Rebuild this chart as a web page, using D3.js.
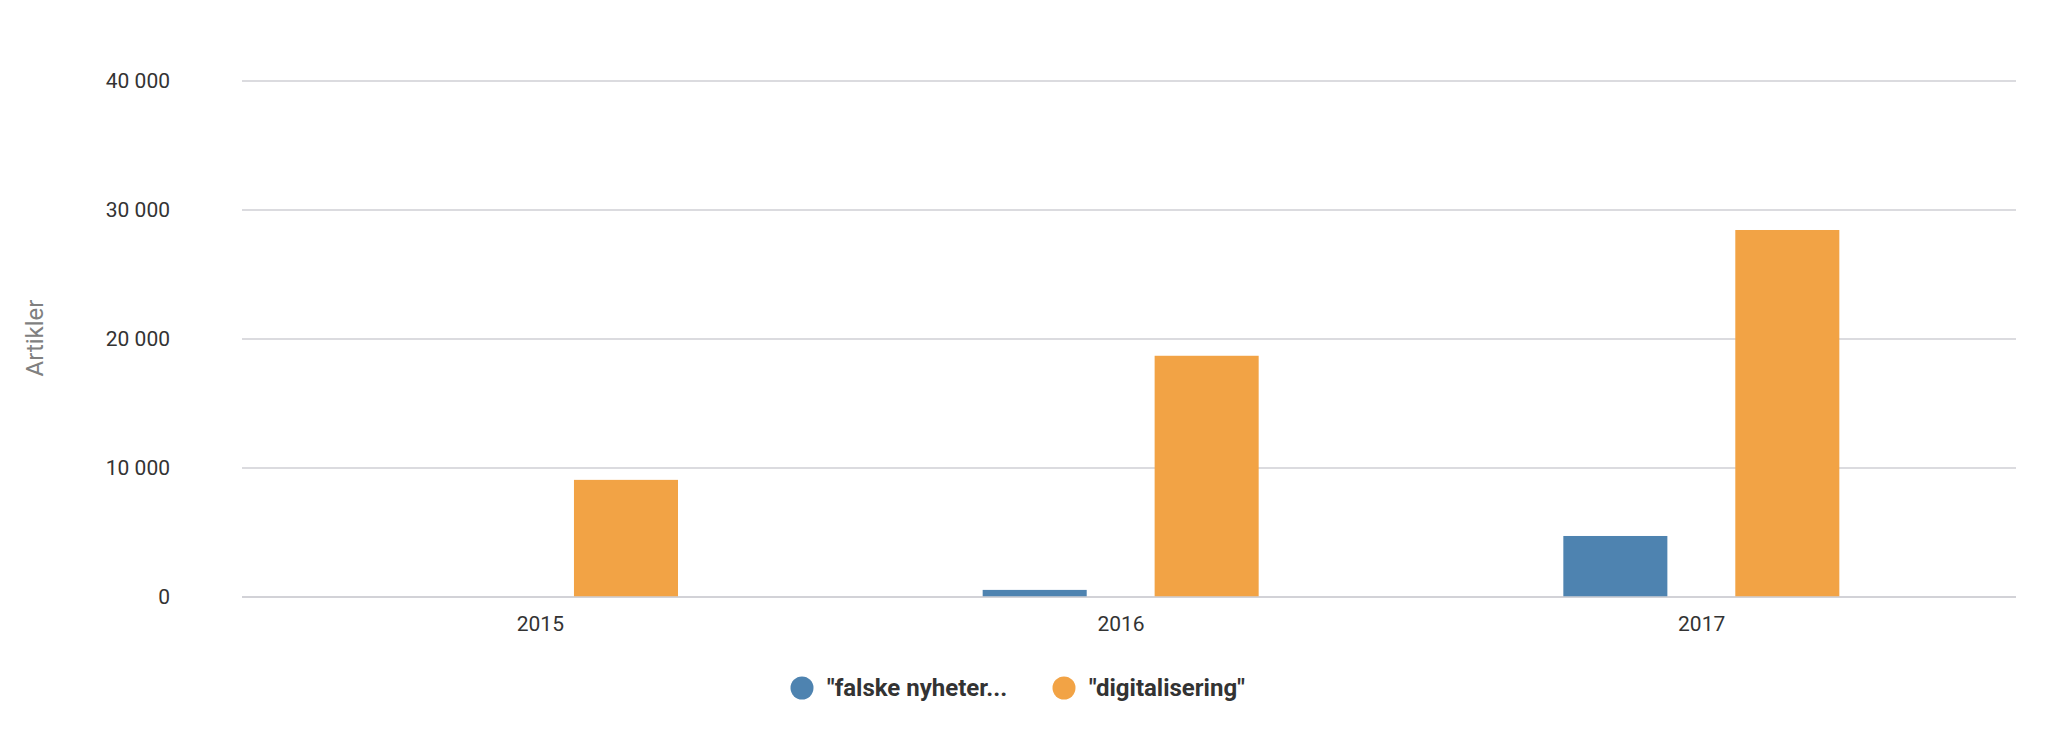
<!DOCTYPE html>
<meta charset="utf-8">
<style>
body { margin: 0; background: #fff; }
text { font-family: Roboto, "Noto Sans", sans-serif; }
</style>
<svg id="chart" width="2052" height="744"></svg>
<script src="https://cdn.jsdelivr.net/npm/d3@7"></script>
<script>
var years = ["2015", "2016", "2017"];
var series = ["\"falske nyheter...", "\"digitalisering\""];
var falske = [0, 550, 4730];
var digital = [9080, 18700, 28450];
var yTicks = [0, 10000, 20000, 30000, 40000];
var colors = ["#4e83b0", "#f2a345"];

var svg = d3.select("#chart");

var plotLeft = 242, plotRight = 2016, plotTop = 81, plotBottom = 597;

var x0 = d3.scaleBand().domain(years).range([250, 1992]);
var x1 = d3.scaleBand().domain(series).range([152, 428]).paddingInner(0.395);
var y = d3.scaleLinear().domain([0, 40000]).range([plotBottom, plotTop]);

var nb = d3.formatLocale({decimal: ",", thousands: " ", grouping: [3], currency: ["", ""]});
var fmt = nb.format(",");

// grid
svg.append("g")
  .selectAll("line")
  .data(yTicks)
  .join("line")
    .attr("x1", plotLeft).attr("x2", plotRight)
    .attr("y1", d => y(d)).attr("y2", d => y(d))
    .attr("stroke", "#cfcfd4")
    .attr("stroke-width", 1.6);

// y labels
svg.append("g")
  .selectAll("text")
  .data(yTicks)
  .join("text")
    .attr("x", 170)
    .attr("y", d => y(d))
    .attr("dy", "0.35em")
    .attr("text-anchor", "end")
    .attr("font-size", 21)
    .attr("fill", "#333")
    .text(d => fmt(d));

svg.append("text")
  .attr("transform", "translate(43,338) rotate(-90)")
  .attr("text-anchor", "middle")
  .attr("font-size", 24)
  .attr("fill", "#808080")
  .text("Artikler");

// bars
var rows = years.map((yr, i) => ({year: yr, vals: [falske[i], digital[i]]}));

var g = svg.append("g")
  .selectAll("g")
  .data(rows)
  .join("g")
    .attr("transform", d => "translate(" + x0(d.year) + ",0)");

g.selectAll("rect")
  .data(d => d.vals.map((v, j) => ({s: series[j], v: v, c: colors[j]})))
  .join("rect")
    .attr("x", d => x1(d.s))
    .attr("width", x1.bandwidth())
    .attr("y", d => y(d.v))
    .attr("height", d => y(0) - y(d.v))
    .attr("fill", d => d.c);

// baseline drawn over bars
svg.append("line")
  .attr("x1", plotLeft).attr("x2", plotRight)
  .attr("y1", y(0)).attr("y2", y(0))
  .attr("stroke", "#cfcfd4")
  .attr("stroke-width", 1.6);

// x labels
svg.append("g")
  .selectAll("text")
  .data(years)
  .join("text")
    .attr("x", d => x0(d) + x0.bandwidth() / 2)
    .attr("y", 624)
    .attr("dy", "0.35em")
    .attr("text-anchor", "middle")
    .attr("font-size", 21)
    .attr("fill", "#333")
    .text(d => d);

// legend
var legX = [802, 1064];
var leg = svg.append("g")
  .selectAll("g")
  .data(series)
  .join("g")
    .attr("transform", (d, i) => "translate(" + legX[i] + ",688)");

leg.append("circle")
  .attr("r", 11.5)
  .attr("fill", (d, i) => colors[i]);

leg.append("text")
  .attr("x", 25)
  .attr("dy", "0.35em")
  .attr("font-size", 24)
  .attr("font-weight", "bold")
  .attr("fill", "#333")
  .text(d => d);
</script>
